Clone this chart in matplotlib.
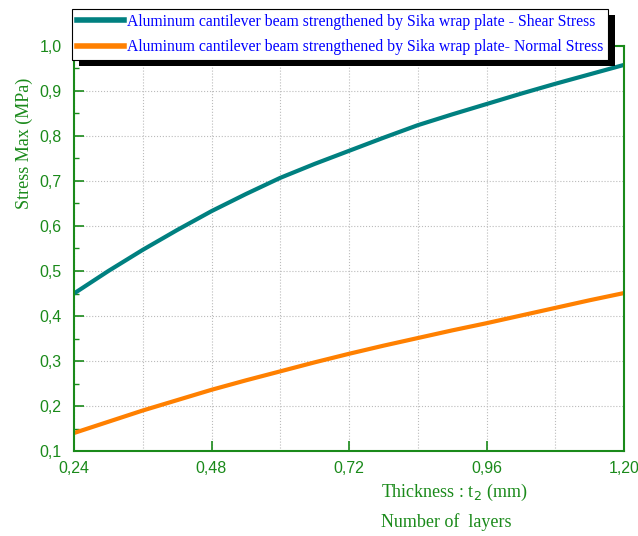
import matplotlib
matplotlib.use("Agg")
import matplotlib.pyplot as plt
from matplotlib.patches import Rectangle
from matplotlib.transforms import IdentityTransform
from matplotlib.ticker import MultipleLocator, FuncFormatter

# Data
thickness = [0.24, 0.30, 0.36, 0.42, 0.48, 0.54, 0.60, 0.66, 0.72,
             0.78, 0.84, 0.90, 0.96, 1.02, 1.08, 1.14, 1.20]
shear = [0.450, 0.500, 0.547, 0.591, 0.633, 0.671, 0.707, 0.738, 0.767,
         0.796, 0.824, 0.848, 0.871, 0.894, 0.916, 0.937, 0.958]
normal = [0.140, 0.165, 0.190, 0.213, 0.236, 0.257, 0.277, 0.297, 0.316,
          0.334, 0.351, 0.368, 0.384, 0.401, 0.418, 0.435, 0.451]

green = '#1a8a1a'
teal = '#008080'
orange = '#ff8000'

fig = plt.figure(figsize=(6.38, 5.36), dpi=100)
ax = fig.add_axes([74/638, 1 - 451/536, 550/638, 405/536])

ax.plot(thickness, shear, color=teal, linewidth=3, label='Aluminum cantilever beam strengthened by Sika wrap plate - Shear Stress')
ax.plot(thickness, normal, color=orange, linewidth=3, label='Aluminum cantilever beam strengthened by Sika wrap plate- Normal Stress')

ax.set_xlim(0.24, 1.20)
ax.set_ylim(0.1, 1.0)
ax.xaxis.set_major_locator(MultipleLocator(0.24))
ax.xaxis.set_minor_locator(MultipleLocator(0.12))
ax.yaxis.set_major_locator(MultipleLocator(0.1))
ax.yaxis.set_minor_locator(MultipleLocator(0.05))
ax.xaxis.set_major_formatter(FuncFormatter(lambda v, p: f'{v:.2f}'.replace('.', ',')))
ax.yaxis.set_major_formatter(FuncFormatter(lambda v, p: f'{v:.1f}'.replace('.', ',')))

ax.grid(which='both', axis='x', color='#bbbbbb', linestyle=':', linewidth=0.8)
ax.grid(which='major', axis='y', color='#bbbbbb', linestyle=':', linewidth=0.8)

ax.tick_params(which='both', direction='in', colors=green, labelsize=11.5, top=False, right=False)
ax.tick_params(which='major', length=7, width=1.2)
ax.tick_params(which='minor', length=3.5, width=1)
ax.tick_params(axis='x', which='minor', length=0)
ax.tick_params(axis='x', which='major', pad=7)
ax.tick_params(axis='y', which='major', pad=9)
for lab in ax.get_xticklabels() + ax.get_yticklabels():
    lab.set_fontfamily('Liberation Sans')
for s in ax.spines.values():
    s.set_color(green)
    s.set_linewidth(1.5)

ax.set_ylabel('Stress Max (MPa)', color=green, fontsize=13, fontfamily='Liberation Serif')
ax.yaxis.set_label_coords(-0.075, 0.76)

fig.text(381/638, 1 - 492/536, 'Thickness : t$_2$ (mm)', color=green, fontsize=13,
         fontfamily='Liberation Serif', va='center', ha='left')
fig.text(381/638, 1 - 522/536, 'Number of  layers', color=green, fontsize=13,
         fontfamily='Liberation Serif', va='center', ha='left')

leg = ax.legend(loc='upper left', bbox_to_anchor=(72/638, 1 - 9/536), bbox_transform=fig.transFigure,
                prop={'family': 'Liberation Serif', 'size': 11.3}, labelcolor='blue',
                frameon=True, fancybox=False, shadow=False, framealpha=1,
                handlelength=3.0, handletextpad=0.2, borderpad=0.3, labelspacing=0.6,
                edgecolor='black', borderaxespad=0)
leg.get_frame().set_linewidth(0.8)
for h in leg.get_lines():
    h.set_linewidth(4)
leg.set_zorder(10)

# black drop shadow behind the legend box
fig.canvas.draw()
bb = leg.get_window_extent()
shadow = Rectangle((bb.x0 + 7, bb.y0 - 6), bb.width, bb.height, transform=IdentityTransform(),
                   facecolor='black', edgecolor='none', zorder=9, clip_on=False)
ax.add_artist(shadow)

fig.savefig('out.png', dpi=100)
